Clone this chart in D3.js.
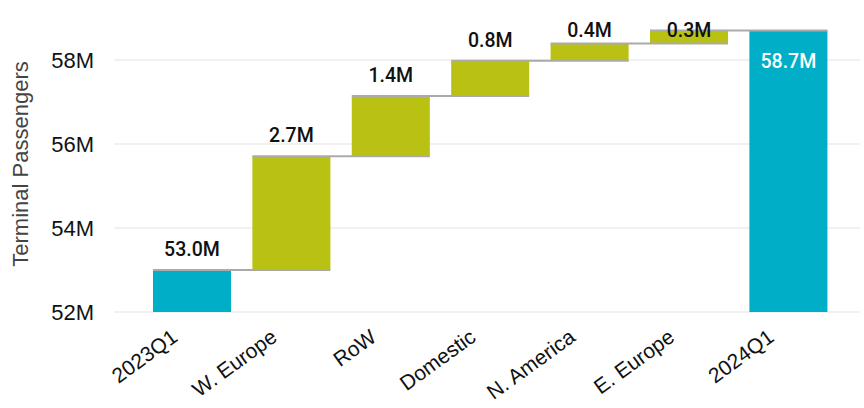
<!DOCTYPE html>
<html>
<head>
<meta charset="utf-8">
<script src="https://cdn.jsdelivr.net/npm/d3@7"></script>
<style>
  html, body { margin: 0; padding: 0; background: #fff; }
  svg { display: block; }
</style>
</head>
<body>
<svg id="chart" width="864" height="408"></svg>
<script>
const categories = ["2023Q1", "W. Europe", "RoW", "Domestic", "N. America", "E. Europe", "2024Q1"];
const kinds = ["total", "delta", "delta", "delta", "delta", "delta", "total"];
const values = [53.0, 2.71, 1.43, 0.84, 0.41, 0.31, 58.7];
const yTicks = [52, 54, 56, 58];
const yTickLabels = ["52M", "54M", "56M", "58M"];

const W = 864, H = 408;
const svg = d3.select("#chart");

const x = d3.scaleBand().domain(categories).range([131.6, 848.8]).paddingInner(0.215).paddingOuter(0.215);
const y = d3.scaleLinear().domain([52, 58]).range([312, 60]);

// build waterfall segments
let run = 0;
const segs = categories.map((c, i) => {
  let y0, y1;
  if (kinds[i] === "total") { y0 = 52; y1 = values[i]; run = values[i]; }
  else { y0 = run; y1 = run + values[i]; run = y1; }
  return { c, kind: kinds[i], y0, y1, v: values[i] };
});

// gridlines
svg.append("g").selectAll("line").data(yTicks).join("line")
  .attr("x1", 114).attr("x2", 860)
  .attr("y1", d => y(d)).attr("y2", d => y(d))
  .attr("stroke", "#ececec").attr("stroke-width", 1.5);

// y tick labels
svg.append("g").selectAll("text").data(yTicks).join("text")
  .attr("x", 94).attr("y", d => y(d)).attr("dy", "0.36em")
  .attr("text-anchor", "end")
  .attr("font-family", "Liberation Sans, Arial, sans-serif")
  .attr("font-size", 22).attr("fill", "#111")
  .text((d, i) => yTickLabels[i]);

// y title
svg.append("text")
  .attr("transform", `translate(28,164) rotate(-90)`)
  .attr("text-anchor", "middle")
  .attr("font-family", "Liberation Sans, Arial, sans-serif")
  .attr("font-size", 22).attr("fill", "#444")
  .text("Terminal Passengers");

// bars
svg.append("g").selectAll("rect").data(segs).join("rect")
  .attr("x", d => x(d.c)).attr("width", x.bandwidth())
  .attr("y", d => y(Math.max(d.y0, d.y1)))
  .attr("height", d => Math.abs(y(d.y0) - y(d.y1)))
  .attr("fill", d => d.kind === "total" ? "#00aec7" : "#b9c113");

// connectors
const conn = segs.slice(0, -1).map((d, i) => ({ a: d.c, b: categories[i + 1], v: d.y1 }));
svg.append("g").selectAll("line").data(conn).join("line")
  .attr("x1", d => x(d.a)).attr("x2", d => x(d.b) + x.bandwidth())
  .attr("y1", d => y(d.v)).attr("y2", d => y(d.v))
  .attr("stroke", "#aaaaaa").attr("stroke-width", 2);

// data labels (outside labels kept from running off the top)
svg.append("g").selectAll("text").data(segs).join("text")
  .attr("x", d => x(d.c) + x.bandwidth() / 2)
  .attr("y", d => d.c === "2024Q1" ? y(d.y1) + 37 : Math.max(y(Math.max(d.y0, d.y1)) - 14, 37))
  .attr("text-anchor", "middle")
  .attr("font-family", "Roboto, sans-serif")
  .attr("font-size", 19.5).attr("font-weight", 500)
  .attr("fill", d => d.c === "2024Q1" ? "#fff" : "#111")
  .text(d => d.v.toFixed(1) + "M");

// x labels
svg.append("g").selectAll("text").data(categories).join("text")
  .attr("transform", d => `translate(${x(d) + x.bandwidth() / 2 - 13},${340}) rotate(-36)`)
  .attr("text-anchor", "end")
  .attr("font-family", "Liberation Sans, Arial, sans-serif")
  .attr("font-size", 21).attr("fill", "#111")
  .text(d => d);
</script>
</body>
</html>
